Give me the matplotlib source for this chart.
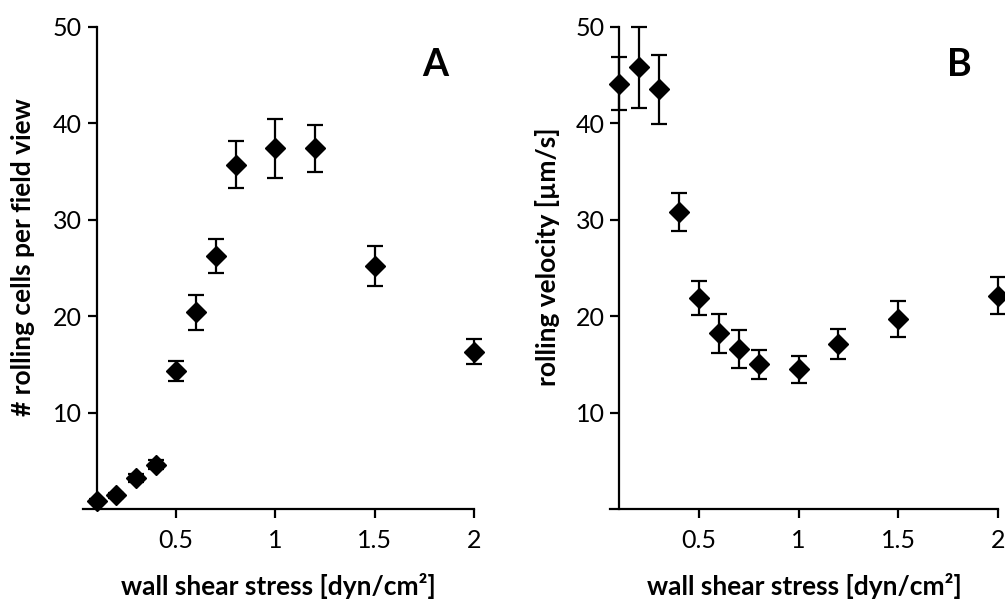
import matplotlib.pyplot as plt

plt.rcParams["font.family"] = ["Lato", "DejaVu Sans"]

# wall shear stress [dyn/cm2]
shear = [0.1, 0.2, 0.3, 0.4, 0.5, 0.6, 0.7, 0.8, 1.0, 1.2, 1.5, 2.0]

# Panel A: rolling cells per field view
cells = [0.8, 1.4, 3.2, 4.6, 14.3, 20.4, 26.2, 35.7, 37.4, 37.4, 25.2, 16.3]
cells_err = [0.2, 0.3, 0.4, 0.5, 1.05, 1.8, 1.75, 2.4, 3.05, 2.45, 2.1, 1.3]

# Panel B: rolling velocity [um/s]
velocity = [44.1, 45.8, 43.5, 30.8, 21.9, 18.2, 16.6, 15.0, 14.5, 17.1, 19.7, 22.1]
velocity_err = [2.75, 4.2, 3.6, 2.0, 1.75, 2.0, 1.95, 1.5, 1.4, 1.55, 1.85, 1.9]

Y_TICKS = [10, 20, 30, 40, 50]
X_TICKS = [0.5, 1, 1.5, 2]
X_TICK_LABELS = ["0.5", "1", "1.5", "2"]


def style_panel(ax, xmin, ylabel, ylabel_x, letter):
    ax.set_xlim(xmin, 2.0)
    ax.set_ylim(0, 50)
    ax.spines["top"].set_visible(False)
    ax.spines["right"].set_visible(False)
    ax.spines["left"].set_position(("data", 0.1))
    for side in ("left", "bottom"):
        ax.spines[side].set_linewidth(1.6)
    ax.set_yticks(Y_TICKS)
    ax.set_xticks(X_TICKS)
    ax.set_xticklabels(X_TICK_LABELS)
    ax.tick_params(axis="both", direction="out", length=6.5, width=1.6,
                   labelsize=18, colors="black")
    ax.tick_params(axis="y", pad=4)
    ax.tick_params(axis="x", pad=8)
    ax.set_xlabel("wall shear stress [dyn/cm²]", fontsize=19,
                  fontweight="bold", labelpad=15)
    ax.set_ylabel(ylabel, fontsize=19, fontweight="bold")
    # label sits a little above the axes centre in the original
    ax.yaxis.set_label_coords(ylabel_x, 0.522)
    ax.text(0.9, 0.92, letter, transform=ax.transAxes, fontsize=27,
            fontweight="bold", ha="center", va="center")


fig = plt.figure(figsize=(10.05, 6.01), dpi=100)

ax_a = fig.add_axes([0.0826, 0.1531, 0.389, 0.8025])
ax_a.errorbar(shear, cells, yerr=cells_err, fmt="D", color="black",
              markersize=10, elinewidth=1.6, capsize=5.5, capthick=1.6,
              clip_on=False, zorder=3)
style_panel(ax_a, 0.032, "# rolling cells per field view", -0.123, "A")

ax_b = fig.add_axes([0.607, 0.1531, 0.386, 0.8025])
ax_b.errorbar(shear, velocity, yerr=velocity_err, fmt="D", color="black",
              markersize=10, elinewidth=1.6, capsize=5.5, capthick=1.6,
              clip_on=False, zorder=3)
style_panel(ax_b, 0.054, "rolling velocity [µm/s]", -0.129, "B")

fig.savefig("out.png", dpi=100)
